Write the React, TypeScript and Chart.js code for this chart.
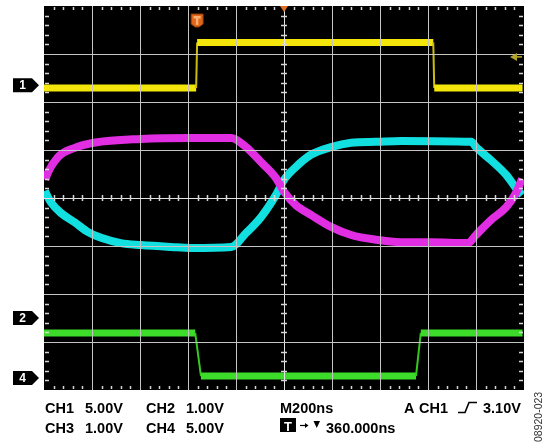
import React, { useEffect, useRef } from "react";
import { Chart, registerables } from "chart.js";

Chart.register(...registerables);

// Time axis in divisions (0..10), vertical axis in divisions (0..8)
const ch1Time = [0, 3.17, 3.19, 8.11, 8.13, 9.97];
const ch1Level = [6.29, 6.29, 7.24, 7.24, 6.29, 6.29];

const ch4Time = [0, 3.15, 3.27, 7.75, 7.85, 9.97];
const ch4Level = [1.19, 1.19, 0.29, 0.29, 1.19, 1.19];

const ch3Time = [0.03, 0.06, 0.29, 0.63, 1.04, 2.02, 3.06, 3.9, 4.21, 4.52, 4.83, 5.0, 5.25, 5.56, 5.98, 6.4, 6.92, 7.44, 8.06, 8.83, 9.0, 9.31, 9.63, 9.83, 9.96];
const ch3Level = [4.38, 4.48, 4.85, 5.04, 5.15, 5.23, 5.25, 5.25, 5.06, 4.75, 4.42, 4.13, 3.85, 3.65, 3.4, 3.23, 3.13, 3.08, 3.08, 3.06, 3.23, 3.54, 3.81, 4.1, 4.4];

const ch2Time = [0.02, 0.06, 0.15, 0.35, 0.63, 0.92, 1.19, 1.6, 2.02, 2.65, 3.06, 3.9, 4.21, 4.52, 4.83, 5.0, 5.25, 5.56, 5.98, 6.4, 6.92, 7.44, 8.9, 9.0, 9.31, 9.63, 9.83, 9.96];
const ch2Level = [4.15, 4.06, 3.9, 3.69, 3.5, 3.29, 3.17, 3.06, 3.02, 2.98, 2.96, 2.98, 3.27, 3.6, 4.06, 4.38, 4.65, 4.9, 5.06, 5.15, 5.17, 5.19, 5.17, 5.06, 4.79, 4.48, 4.21, 4.06];

const markerLabels = ["1", "2", "4"];
const markerLevels = [6.35, 1.5, 0.25];

const triggerTime = 3.19;
const triggerLevel = 6.94;

const row1Labels = ["CH1", "5.00V", "CH2", "1.00V", "M200ns", "A", "CH1", "3.10V"];
const row2Labels = ["CH3", "1.00V", "CH4", "5.00V", "360.000ns"];
const figureId = "08920-023";

const X_DIVS = 10;
const Y_DIVS = 8;

const toPoints = (xs: number[], ys: number[]) => xs.map((x, i) => ({ x, y: ys[i] }));

const FONT = '"Liberation Sans", Arial, Helvetica, sans-serif';

const scopePlugin = {
  id: "scope",
  beforeDraw(chart: any) {
    const { ctx, chartArea } = chart;
    const { left, top, right, bottom } = chartArea;
    ctx.save();
    ctx.fillStyle = "#000";
    ctx.fillRect(left, top, right - left, bottom - top);
    ctx.restore();
  },
  afterDraw(chart: any) {
    const { ctx, chartArea } = chart;
    const xs = chart.scales.x;
    const ys = chart.scales.y;
    const { left, top, right, bottom } = chartArea;
    ctx.save();
    // minor ticks
    ctx.strokeStyle = "#d6d6d6";
    ctx.lineWidth = 1.5;
    ctx.beginPath();
    for (let v = 0; v < X_DIVS * 5; v++) {
      if (v % 5 === 0) continue;
      const px = Math.round(xs.getPixelForValue(v / 5)) + 0.5;
      ctx.moveTo(px, top + 1);
      ctx.lineTo(px, top + 4);
      ctx.moveTo(px, bottom - 4);
      ctx.lineTo(px, bottom - 1);
      const cy = ys.getPixelForValue(Y_DIVS / 2);
      ctx.moveTo(px, cy - 3);
      ctx.lineTo(px, cy + 3);
    }
    for (let v = 0; v < Y_DIVS * 5; v++) {
      if (v % 5 === 0) continue;
      const py = Math.round(ys.getPixelForValue(v / 5)) + 0.5;
      ctx.moveTo(left + 1, py);
      ctx.lineTo(left + 5, py);
      ctx.moveTo(right - 5, py);
      ctx.lineTo(right - 1, py);
      const cx = xs.getPixelForValue(X_DIVS / 2);
      ctx.moveTo(cx - 3, py);
      ctx.lineTo(cx + 3, py);
    }
    ctx.stroke();

    // channel markers
    markerLabels.forEach((lab, i) => {
      const cy = ys.getPixelForValue(markerLevels[i]);
      ctx.fillStyle = "#000";
      ctx.beginPath();
      ctx.moveTo(13, cy - 7);
      ctx.lineTo(32, cy - 7);
      ctx.lineTo(39, cy);
      ctx.lineTo(32, cy + 7);
      ctx.lineTo(13, cy + 7);
      ctx.closePath();
      ctx.fill();
      ctx.fillStyle = "#fff";
      ctx.font = `bold 12px ${FONT}`;
      ctx.textAlign = "center";
      ctx.textBaseline = "middle";
      ctx.fillText(lab, 22.5, cy + 0.5);
    });

    // trigger time badge
    const tx = xs.getPixelForValue(triggerTime);
    ctx.fillStyle = "#e2661a";
    ctx.strokeStyle = "#8a3a08";
    ctx.lineWidth = 1;
    ctx.beginPath();
    ctx.moveTo(tx - 6, top + 8);
    ctx.lineTo(tx + 6, top + 8);
    ctx.lineTo(tx + 6, top + 18);
    ctx.lineTo(tx + 2, top + 21);
    ctx.lineTo(tx - 2, top + 21);
    ctx.lineTo(tx - 6, top + 18);
    ctx.closePath();
    ctx.fill();
    ctx.stroke();
    ctx.fillStyle = "#f7b070";
    ctx.fillRect(tx - 3.5, top + 10, 7, 2.5);
    ctx.fillRect(tx - 1.2, top + 10, 2.4, 9);

    // center trigger position marker
    const cx = xs.getPixelForValue(X_DIVS / 2);
    ctx.fillStyle = "#e07020";
    ctx.beginPath();
    ctx.moveTo(cx - 4, top);
    ctx.lineTo(cx + 4, top);
    ctx.lineTo(cx, top + 6);
    ctx.closePath();
    ctx.fill();

    // trigger level marker
    const ty = ys.getPixelForValue(triggerLevel);
    ctx.fillStyle = "#b0a428";
    ctx.beginPath();
    ctx.moveTo(right - 14, ty);
    ctx.lineTo(right - 7, ty - 4);
    ctx.lineTo(right - 7, ty + 4);
    ctx.closePath();
    ctx.fill();
    ctx.fillRect(right - 8, ty - 0.8, 6, 1.6);

    // settings text
    ctx.fillStyle = "#000";
    ctx.textAlign = "left";
    ctx.textBaseline = "alphabetic";
    ctx.font = `bold 14.5px ${FONT}`;
    const r1 = 413;
    const r2 = 433;
    const r1x = [45, 85, 146, 186, 280, 404, 419, 483];
    row1Labels.forEach((t, i) => ctx.fillText(t, r1x[i], r1));
    const r2x = [45, 85, 146, 186, 326];
    row2Labels.forEach((t, i) => ctx.fillText(t, r2x[i], r2));

    // trigger edge symbol
    ctx.strokeStyle = "#000";
    ctx.lineWidth = 1.6;
    ctx.beginPath();
    ctx.moveTo(458, r1 - 0.5);
    ctx.lineTo(465, r1 - 0.5);
    ctx.lineTo(469, r1 - 10.5);
    ctx.lineTo(477, r1 - 10.5);
    ctx.stroke();

    // T box
    ctx.fillStyle = "#000";
    ctx.fillRect(280, 418, 16, 14);
    ctx.fillStyle = "#fff";
    ctx.font = `bold 13px ${FONT}`;
    ctx.textAlign = "center";
    ctx.fillText("T", 288, 430.5);
    // arrow
    ctx.strokeStyle = "#000";
    ctx.lineWidth = 1.2;
    ctx.beginPath();
    ctx.moveTo(300, 425.5);
    ctx.lineTo(306, 425.5);
    ctx.stroke();
    ctx.fillStyle = "#000";
    ctx.beginPath();
    ctx.moveTo(308.5, 425.5);
    ctx.lineTo(305, 423);
    ctx.lineTo(305, 428);
    ctx.closePath();
    ctx.fill();
    // down triangle
    ctx.beginPath();
    ctx.moveTo(313.5, 421);
    ctx.lineTo(320, 421);
    ctx.lineTo(316.75, 428);
    ctx.closePath();
    ctx.fill();

    // figure id
    ctx.save();
    ctx.translate(541.5, 442);
    ctx.rotate(-Math.PI / 2);
    ctx.fillStyle = "#333";
    ctx.font = `10.5px ${FONT}`;
    ctx.textAlign = "left";
    ctx.fillText(figureId, 0, 0);
    ctx.restore();

    ctx.restore();
  },
};

const squareSegment = (dim: string) => ({
  borderWidth: (c: any) => (Math.abs(c.p0.x - c.p1.x) < 8 ? 2 : undefined),
  borderColor: (c: any) => (Math.abs(c.p0.x - c.p1.x) < 8 ? dim : undefined),
});

const gridColor = (max: number) => (c: any) => {
  const v = c.tick && c.tick.value;
  if (v === 0 || v === max) return "rgba(0,0,0,0)";
  if (v === max / 2) return "#e4e4e4";
  return "#c4c4c4";
};

export default function App() {
  const ref = useRef<HTMLCanvasElement | null>(null);
  useEffect(() => {
    if (!ref.current) return;
    const chart = new Chart(ref.current, {
      type: "line",
      data: {
        datasets: [
          {
            label: "CH1",
            data: toPoints(ch1Time, ch1Level),
            borderColor: "#f4e60a",
            borderWidth: 7,
            pointRadius: 0,
            tension: 0,
            segment: squareSegment("#c8bc10"),
          },
          {
            label: "CH3",
            data: toPoints(ch3Time, ch3Level),
            borderColor: "#e22ee2",
            borderWidth: 8,
            pointRadius: 0,
            cubicInterpolationMode: "monotone",
            borderJoinStyle: "round",
          },
          {
            label: "CH2",
            data: toPoints(ch2Time, ch2Level),
            borderColor: "#12e0e0",
            borderWidth: 8,
            pointRadius: 0,
            cubicInterpolationMode: "monotone",
            borderJoinStyle: "round",
          },
          {
            label: "CH4",
            data: toPoints(ch4Time, ch4Level),
            borderColor: "#3ddc2a",
            borderWidth: 7,
            pointRadius: 0,
            tension: 0,
            segment: squareSegment("#34c820"),
          },
        ] as any,
      },
      options: {
        animation: false,
        responsive: true,
        maintainAspectRatio: false,
        layout: { padding: { left: 44, right: 26, top: 6, bottom: 54 } },
        plugins: { legend: { display: false }, tooltip: { enabled: false } },
        events: [],
        scales: {
          x: {
            type: "linear",
            min: 0,
            max: X_DIVS,
            ticks: { display: false, stepSize: 1 },
            border: { display: false },
            grid: { drawTicks: false, color: gridColor(X_DIVS), lineWidth: 1, z: 1 } as any,
          },
          y: {
            type: "linear",
            min: 0,
            max: Y_DIVS,
            ticks: { display: false, stepSize: 1 },
            border: { display: false },
            grid: { drawTicks: false, color: gridColor(Y_DIVS), lineWidth: 1, z: 1 } as any,
          },
        },
      },
      plugins: [scopePlugin],
    });
    return () => chart.destroy();
  }, []);
  return (
    <div style={{ position: "fixed", left: 0, top: 0, width: 550, height: 444, background: "#fff" }}>
      <canvas ref={ref} />
    </div>
  );
}
